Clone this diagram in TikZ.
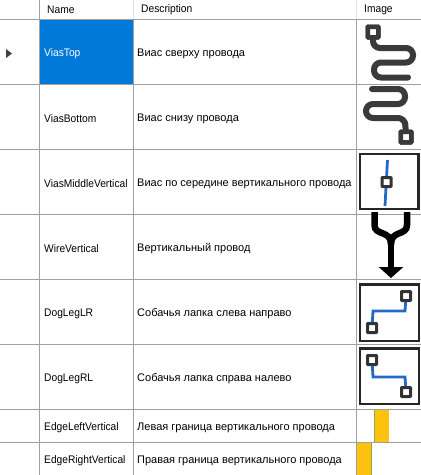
\documentclass[tikz,border=0pt]{standalone}
\usepackage{fontspec}
\setmainfont{Liberation Sans}
\newfontfamily\namefont[FakeStretch=0.93]{Liberation Sans}
\usetikzlibrary{arrows.meta}
\definecolor{gridgray}{HTML}{A0A0A0}
\definecolor{headgray}{HTML}{E3E3E3}
\definecolor{selblue}{HTML}{0078D7}
\definecolor{wiregray}{HTML}{3A3A3A}
\definecolor{tracegreen}{HTML}{8DA84A}
\definecolor{edgeorange}{HTML}{FFC20E}
\definecolor{dogblue}{HTML}{2468C8}

\begin{document}
\begin{tikzpicture}[
    x=1pt, y=-1pt,
    % Define text styles
    cell text/.style={
        anchor=west, % Start at the given point
        inner sep=0pt, % No padding
        font=\fontsize{11}{13}\selectfont, % Grid font
        text=black
      },
    name text/.style={cell text, font=\namefont\fontsize{11}{13}\selectfont},
    sel text/.style={name text, text=white},
    % Define line styles
    grid line/.style={draw=gridgray, line width=1pt},
    head line/.style={draw=headgray, line width=1pt},
    % Define icon styles
    snake wire/.style={draw=wiregray, line width=6pt, line cap=round, rounded corners=7pt},
    big via/.style={draw=wiregray, fill=white, rectangle, rounded corners=0.5pt, line width=4.5pt, minimum size=10.5pt, inner sep=0pt},
    small via/.style={draw=black!80, fill=white, rectangle, rounded corners=0.5pt, line width=3pt, minimum size=9pt, inner sep=0pt},
    icon frame/.style={draw=black!85, line width=2.2pt},
    dog wire/.style={draw=dogblue, line width=2.8pt},
    fork line/.style={draw=black, line width=6.5pt}
  ]
  \useasboundingbox (0,0) rectangle (421,475);

  % Selected cell
  \fill[selblue] (40,20) rectangle (133,84);

  % Header separators
  \draw[grid line] (39.5,0) -- (39.5,475);
  \draw[head line] (133.5,0) -- (133.5,19);
  \draw[head line] (356.5,0) -- (356.5,19);

  % Column lines
  \draw[grid line] (133.5,19) -- (133.5,475);
  \draw[grid line] (356.5,19) -- (356.5,475);

  % Row lines
  \draw[grid line] (0,19.5) -- (421,19.5);
  \draw[grid line] (0,84.5) -- (421,84.5);
  \draw[grid line] (0,149.5) -- (421,149.5);
  \draw[grid line] (0,214.5) -- (421,214.5);
  \draw[grid line] (0,279.5) -- (421,279.5);
  \draw[grid line] (0,344.5) -- (421,344.5);
  \draw[grid line] (0,409.5) -- (421,409.5);
  \draw[grid line] (0,442.5) -- (421,442.5);

  % Header text
  \node[name text] (NameHead) at (47,10) {Name};
  \node[name text] (DescHead) at (141,10) {Description};
  \node[name text] (ImageHead) at (364,10) {Image};

  % Row marker
  \fill[black!75] (6,49) -- (12,53.5) -- (6,58) -- cycle;

  % Name column
  \node[sel text] (ViasTop) at (44,54) {ViasTop};
  \node[name text] (ViasBottom) at (44,119) {ViasBottom};
  \node[name text] (ViasMiddle) at (44,184) {ViasMiddleVertical};
  \node[name text] (WireVertical) at (44,249) {WireVertical};
  \node[name text] (DogLegLR) at (44,314) {DogLegLR};
  \node[name text] (DogLegRL) at (44,379) {DogLegRL};
  \node[name text] (EdgeLeft) at (44,428) {EdgeLeftVertical};
  \node[name text] (EdgeRight) at (44,461) {EdgeRightVertical};

  % Description column
  \node[cell text] (DescTop) at (137,54) {Виас сверху провода};
  \node[cell text] (DescBottom) at (137,119) {Виас снизу провода};
  \node[cell text] (DescMiddle) at (137,184) {Виас по середине вертикального провода};
  \node[cell text] (DescWire) at (137,249) {Вертикальный провод};
  \node[cell text] (DescLR) at (137,314) {Собачья лапка слева направо};
  \node[cell text] (DescRL) at (137,379) {Собачья лапка справа налево};
  \node[cell text] (DescLeft) at (137,428) {Левая граница вертикального провода};
  \node[cell text] (DescRight) at (137,461) {Правая граница вертикального провода};

  % Icon: via on top of the wire
  \coordinate (TopEnd) at (408,77.5);
  \node[big via] (TopVia) at (373,32) {};
  \draw[snake wire] (TopEnd) -- (374,77.5) -- (374,62.5) -- (413,62.5) -- (413,48) -- (373,48) -- (TopVia);
  \node[big via] at (TopVia) {};

  % Icon: via below the wire
  \coordinate (BottomEnd) at (372,89);
  \node[big via] (BottomVia) at (406,137) {};
  \draw[snake wire] (BottomEnd) -- (405,89) -- (405,104) -- (366,104) -- (366,118) -- (405,118) -- (BottomVia);
  \node[big via] at (BottomVia) {};

  % Icon: via in the middle
  \draw[icon frame] (360,154) rectangle (418.5,209);
  \coordinate (MidTop) at (387.5,160);
  \coordinate (MidBottom) at (385,206);
  \draw[dog wire] (MidTop) -- (MidBottom);
  \node[small via] (MidVia) at (386.5,182) {};

  % Icon: forked arrow
  \coordinate (ForkLeft) at (374.5,212);
  \coordinate (ForkRight) at (407,212);
  \coordinate (ForkJoin) at (391,244);
  \coordinate (ForkTip) at (391,278);
  \draw[fork line] (ForkLeft) -- (374.5,225) .. controls (374.5,236) and (391,230) .. (ForkJoin);
  \draw[fork line] (ForkRight) -- (407,225) .. controls (407,236) and (391,230) .. (ForkJoin);
  \draw[fork line, -{Triangle[length=11pt, width=24pt]}] (ForkJoin) -- (ForkTip);

  % Icon: dog leg left to right
  \draw[icon frame] (360,284.5) rectangle (419,341);
  \node[small via] (LRStart) at (372,328) {};
  \node[small via] (LREnd) at (406,296) {};
  \draw[dog wire] (LRStart) -- (373,311) -- (405,311) -- (LREnd);

  % Icon: dog leg right to left
  \draw[icon frame] (360,348.5) rectangle (419,404);
  \node[small via] (RLStart) at (372,360) {};
  \node[small via] (RLEnd) at (406,392) {};
  \draw[dog wire] (RLStart) -- (373,377) -- (405,377) -- (RLEnd);

  % Icon: left edge
  \fill[edgeorange] (375,410) rectangle (389,442);
  \draw[draw=tracegreen, line width=1.2pt] (374.5,410) -- (374.5,442);

  % Icon: right edge
  \fill[edgeorange] (357,443) rectangle (371,475);
  \draw[draw=tracegreen, line width=1.2pt] (371.5,443) -- (371.5,475);

\end{tikzpicture}
\end{document}
